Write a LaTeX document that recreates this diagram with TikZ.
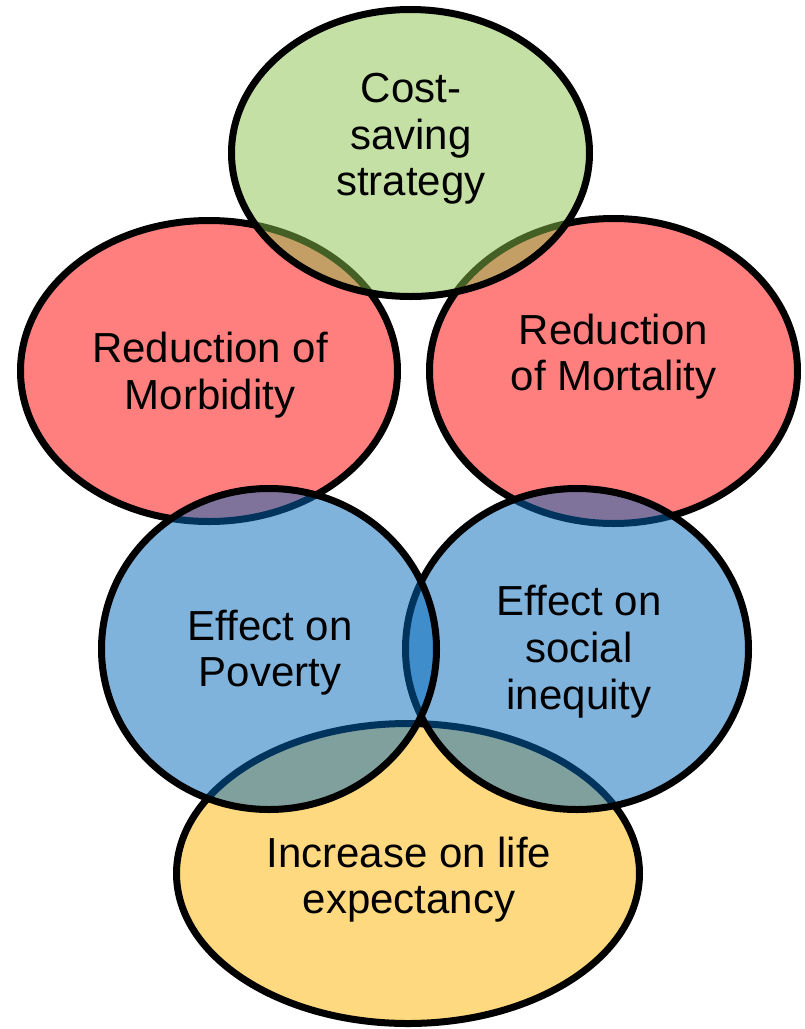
\documentclass[tikz,border=0pt]{standalone}
\usepackage{fontspec}
\setmainfont{Liberation Sans}
\definecolor{costgreen}{RGB}{139,193,75}
\definecolor{lossred}{RGB}{255,0,0}
\definecolor{socblue}{RGB}{0,104,186}
\definecolor{lifeyellow}{RGB}{255,180,0}

\begin{document}
\begin{tikzpicture}[x=0.75pt,y=-0.75pt,
  bubble/.style={draw=black,line width=5.25pt,fill=#1,fill opacity=0.5},
  words/.style={align=center,font=\fontsize{31.5}{35}\selectfont}]
\useasboundingbox (0,0) rectangle (804,1029);
% yellow goes first, the blue ones lie over it
\draw[bubble=lifeyellow] (408,873.5) ellipse (231.5 and 150);
\draw[bubble=lossred] (209,371) ellipse (188.5 and 150.5);
\draw[bubble=lossred] (613.5,371) ellipse (184 and 152.5);
\draw[bubble=costgreen] (410.5,153) ellipse (179 and 143.5);
\draw[bubble=socblue] (577,649) ellipse (171.5 and 160.5);
\draw[bubble=socblue] (269,649) ellipse (167.5 and 160.5);
% texts on top
\node[words] (cost) at (411,139) {Cost-\\saving\\strategy};
\node[words] (morb) at (210,375) {Reduction of\\Morbidity};
\node[words] (mort) at (613.5,356.5) {Reduction\\of Mortality};
\node[words] (pov) at (270,652.5) {Effect on\\Poverty};
\node[words] (ineq) at (579,651.5) {Effect on\\social\\inequity};
\node[words] (life) at (409,879.5) {Increase on life\\expectancy};
\end{tikzpicture}
\end{document}
